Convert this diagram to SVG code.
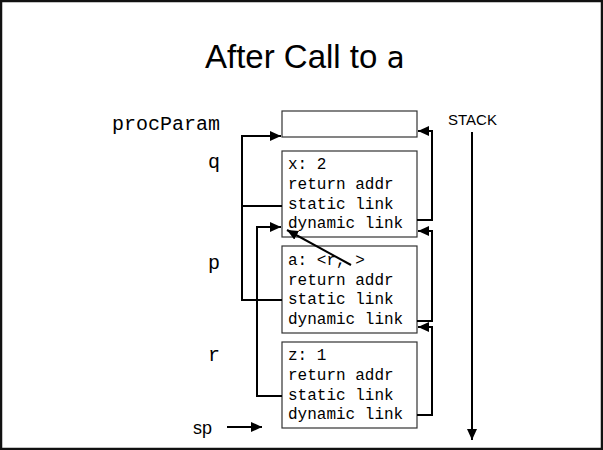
<svg xmlns="http://www.w3.org/2000/svg" width="603" height="450" viewBox="0 0 603 450">
<style>
.frame{fill:#fff;stroke:#333;stroke-width:1.2}
.mono{font-family:"Liberation Mono","Courier New",monospace;fill:#000}
.cell{font-size:16px}
.lbl{font-size:20px;text-anchor:end}
.sans{font-family:"Liberation Sans",Arial,sans-serif;fill:#000}
.con{fill:none;stroke:#000;stroke-width:2}
</style>
<defs>
<marker id="ah" markerUnits="userSpaceOnUse" markerWidth="12" markerHeight="10" viewBox="0 0 12 10" refX="11" refY="5" orient="auto">
<path d="M0,0 L11,5 L0,10 z" fill="#000"/>
</marker>
</defs>
<rect x="1" y="1" width="601" height="448" fill="#fff" stroke="#111" stroke-width="2.5"/>
<text class="sans" x="205" y="68" font-size="33">After Call to <tspan font-family="'DejaVu Sans Mono',monospace" font-size="30">a</tspan></text>
<text class="sans" x="448" y="125" font-size="15">STACK</text>
<text class="sans" x="193" y="434" font-size="18">sp</text>

<g id="procParam">
<text class="mono lbl" x="220" y="130">procParam</text>
<rect class="frame" x="282" y="111" width="135" height="26"/>
</g>
<g id="q">
<text class="mono lbl" x="220" y="168">q</text>
<rect class="frame" x="282" y="151" width="135" height="86"/>
<text class="mono cell" x="288" y="169">x: 2</text>
<text class="mono cell" x="288" y="189">return addr</text>
<text class="mono cell" x="288" y="208.5">static link</text>
<text class="mono cell" x="288" y="228">dynamic link</text>
</g>
<g id="p">
<text class="mono lbl" x="220" y="269">p</text>
<rect class="frame" x="282" y="246" width="135" height="87"/>
<text class="mono cell" x="288" y="265">a: &lt;r, &gt;</text>
<text class="mono cell" x="288" y="284.5">return addr</text>
<text class="mono cell" x="288" y="304">static link</text>
<text class="mono cell" x="288" y="323.5">dynamic link</text>
</g>
<g id="r">
<text class="mono lbl" x="220" y="361">r</text>
<rect class="frame" x="282" y="342" width="135" height="86"/>
<text class="mono cell" x="288" y="360">z: 1</text>
<text class="mono cell" x="288" y="380">return addr</text>
<text class="mono cell" x="288" y="399.5">static link</text>
<text class="mono cell" x="288" y="419">dynamic link</text>
</g>
<g id="connectors">
<path class="con" d="M282,300 H242 V136 H281" marker-end="url(#ah)"/>
<path class="con" d="M282,206 H242"/>
<path class="con" d="M282,396 H257 V227 H281" marker-end="url(#ah)"/>
<path class="con" d="M351,265 L287,230" marker-end="url(#ah)"/>
<path class="con" d="M417,220 H432 V131 H418" marker-end="url(#ah)"/>
<path class="con" d="M417,321 H432 V231 H418" marker-end="url(#ah)"/>
<path class="con" d="M417,415 H432 V327 H418" marker-end="url(#ah)"/>
<path class="con" d="M472,132 V440" marker-end="url(#ah)"/>
<path class="con" d="M227,427 H262" marker-end="url(#ah)"/>
</g>
</svg>
